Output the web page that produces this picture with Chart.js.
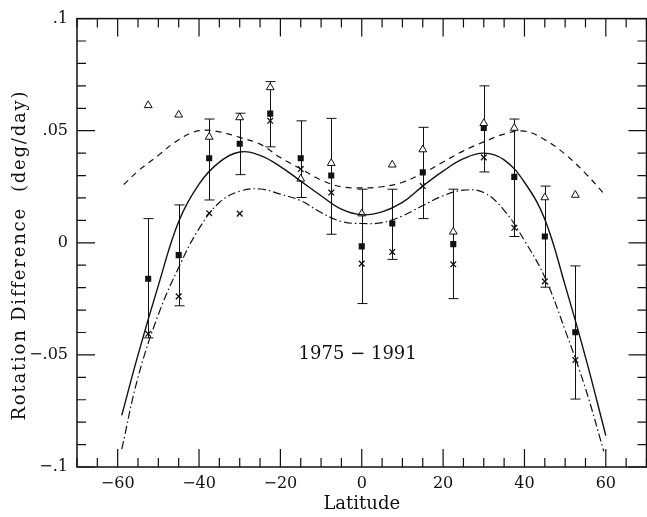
<!DOCTYPE html>
<html>
<head>
<meta charset="utf-8">
<title>Rotation Difference vs Latitude</title>
<script src="https://cdn.jsdelivr.net/npm/chart.js@4/dist/chart.umd.min.js"></script>
<style>
  html, body { margin: 0; padding: 0; background: #fff; overflow: hidden; }
  canvas { display: block; }
</style>
</head>
<body>
<canvas id="chart" width="652" height="517"></canvas>
<script>
// values (deg/day)
const latitudes = [-52.5, -45, -37.5, -30, -22.5, -15, -7.5, 0, 7.5, 15, 22.5, 30, 37.5, 45, 52.5];
const squares   = [-0.016, -0.0055, 0.0377, 0.0442, 0.0576, 0.0377, 0.030, -0.0016, 0.0086, 0.0314, -0.0006, 0.0512, 0.0294, 0.0028, -0.0399];
const errHigh   = [0.0108, 0.0169, 0.0552, 0.0578, 0.0719, 0.0544, 0.0555, 0.0239, 0.0239, 0.0515, 0.0239, 0.070, 0.0552, 0.0253, -0.0103];
const errLow    = [-0.0424, -0.0281, 0.0191, 0.0304, 0.0428, 0.0202, 0.0038, -0.0271, -0.0074, 0.0108, -0.0249, 0.0316, 0.0028, -0.0198, -0.0697];
const triangles = [0.0613, 0.0571, 0.0472, 0.0559, 0.0693, 0.0285, 0.0355, 0.013, 0.0348, 0.0416, 0.0049, 0.0533, 0.0512, 0.0202, 0.0213];
const crosses   = [-0.0406, -0.0239, 0.0132, 0.013, 0.0544, 0.0329, 0.0224, -0.0093, -0.0041, 0.0253, -0.0096, 0.0381, 0.0067, -0.0172, -0.0523];

// fitted curves
const solidLat = [-59, -55, -50, -45, -40, -35, -30, -25, -20, -15, -10, -5, 0, 5, 10, 15, 20, 25, 30, 35, 40, 45, 50, 55, 60];
const solidVal = [-0.077, -0.050, -0.019, 0.0095, 0.0262, 0.036, 0.0405, 0.039, 0.034, 0.0275, 0.021, 0.015, 0.0125, 0.0138, 0.018, 0.0253, 0.032, 0.0375, 0.040, 0.037, 0.027, 0.0105, -0.019, -0.051, -0.086];
const dashLat  = [-58.5, -55, -50, -45, -40, -35, -30, -25, -20, -15, -10, -5, 0, 5, 10, 15, 20, 25, 30, 35, 40, 45, 50, 55, 60];
const dashVal  = [0.026, 0.032, 0.039, 0.046, 0.050, 0.0495, 0.047, 0.044, 0.038, 0.033, 0.028, 0.025, 0.0245, 0.025, 0.027, 0.031, 0.036, 0.041, 0.045, 0.0485, 0.0498, 0.046, 0.0395, 0.031, 0.021];
const ddLat    = [-59, -55, -50, -45, -40, -35, -30, -25, -20, -15, -10, -5, 0, 5, 10, 15, 20, 25, 30, 35, 40, 45, 50, 55, 59.5];
const ddVal    = [-0.092, -0.060, -0.032, -0.011, 0.0063, 0.018, 0.023, 0.024, 0.0217, 0.0188, 0.0135, 0.0095, 0.0086, 0.009, 0.012, 0.0166, 0.021, 0.0235, 0.0224, 0.0145, 0.001, -0.0154, -0.039, -0.065, -0.093];

// axes
const xTickVals   = [-60, -40, -20, 0, 20, 40, 60];
const xTickLabels = ['\u221260', '\u221240', '\u221220', '0', '20', '40', '60'];
const yTickVals   = [0.1, 0.05, 0, -0.05, -0.1];
const yTickLabels = ['.1', '.05', '0', '\u2212.05', '\u2212.1'];
const yTitle      = 'Rotation Difference  (deg/day)';
const periodLabel = '1975 \u2212 1991';

const ink = '#111';
const font = 'DejaVu Serif';

function pts(xs, ys) {
    return xs.map((v, i) => ({ x: v, y: ys[i] }));
}

// error bars behind the markers
const errorBars = {
    id: 'errorBars',
    beforeDatasetsDraw(chart) {
        const { ctx, scales: { x, y } } = chart;
        ctx.save();
        ctx.strokeStyle = ink;
        ctx.lineWidth = 1;
        ctx.beginPath();
        latitudes.forEach((lat, i) => {
            const px = Math.round(x.getPixelForValue(lat)) + 0.5;
            const top = y.getPixelForValue(errHigh[i]);
            const bot = y.getPixelForValue(errLow[i]);
            ctx.moveTo(px, top); ctx.lineTo(px, bot);
            ctx.moveTo(px - 5, top); ctx.lineTo(px + 5, top);
            ctx.moveTo(px - 5, bot); ctx.lineTo(px + 5, bot);
        });
        ctx.stroke();
        ctx.restore();
    }
};

// box with inward ticks on all four sides, y title and the period label
const frame = {
    id: 'frame',
    afterDraw(chart) {
        const { ctx, chartArea: a, scales: { x, y } } = chart;
        ctx.save();
        ctx.strokeStyle = ink;
        ctx.lineWidth = 1.5;
        ctx.strokeRect(a.left, a.top, a.right - a.left, a.bottom - a.top);

        ctx.lineWidth = 1.2;
        ctx.beginPath();
        for (let v = -70; v <= 70; v += 5) {
            const px = x.getPixelForValue(v);
            const len = xTickVals.includes(v) ? 18 : 9;
            ctx.moveTo(px, a.bottom); ctx.lineTo(px, a.bottom - len);
            ctx.moveTo(px, a.top); ctx.lineTo(px, a.top + len);
        }
        for (let k = -10; k <= 10; k++) {
            const py = y.getPixelForValue(k / 100);
            const len = k % 5 === 0 ? 18 : 9;
            ctx.moveTo(a.left, py); ctx.lineTo(a.left + len, py);
            ctx.moveTo(a.right, py); ctx.lineTo(a.right - len, py);
        }
        ctx.stroke();

        ctx.fillStyle = ink;
        ctx.font = '18px "' + font + '"';
        ctx.textAlign = 'center';
        ctx.textBaseline = 'middle';
        ctx.fillText(periodLabel, x.getPixelForValue(-1), y.getPixelForValue(-0.0498));

        // y title, spaced out a little like the typewriter original
        ctx.translate(20, y.getPixelForValue(-0.0055));
        ctx.rotate(-Math.PI / 2);
        ctx.letterSpacing = '1.8px';
        ctx.fillText(yTitle, 0, 0);
        ctx.restore();
    }
};

new Chart(document.getElementById('chart'), {
    type: 'scatter',
    data: {
        datasets: [
            {
                label: 'fit',
                data: pts(solidLat, solidVal),
                showLine: true,
                borderColor: ink,
                borderWidth: 1.4,
                pointRadius: 0,
                tension: 0.4
            },
            {
                label: 'upper',
                data: pts(dashLat, dashVal),
                showLine: true,
                borderColor: ink,
                borderWidth: 1.2,
                borderDash: [6, 5],
                pointRadius: 0,
                tension: 0.4
            },
            {
                label: 'lower',
                data: pts(ddLat, ddVal),
                showLine: true,
                borderColor: ink,
                borderWidth: 1.2,
                borderDash: [8, 3, 1.5, 3],
                pointRadius: 0,
                tension: 0.4
            },
            {
                label: 'triangles',
                data: pts(latitudes, triangles),
                pointStyle: 'triangle',
                pointRadius: 4.5,
                borderWidth: 1,
                borderColor: ink,
                backgroundColor: '#fff'
            },
            {
                label: 'crosses',
                data: pts(latitudes, crosses),
                pointStyle: 'crossRot',
                pointRadius: 4,
                borderWidth: 1.3,
                borderColor: ink
            },
            {
                label: 'squares',
                data: pts(latitudes, squares),
                pointStyle: 'rect',
                pointRadius: 4.3,
                borderWidth: 0,
                backgroundColor: ink
            }
        ]
    },
    options: {
        responsive: false,
        animation: false,
        layout: { padding: { top: 9, right: 2, left: 0, bottom: 0 } },
        plugins: {
            legend: { display: false },
            tooltip: { enabled: false }
        },
        scales: {
            x: {
                type: 'linear',
                min: -70,
                max: 70,
                grid: { display: false, drawTicks: false },
                border: { display: false },
                afterFit(scale) { scale.height = 50; },
                afterBuildTicks(scale) { scale.ticks = xTickVals.map(v => ({ value: v })); },
                ticks: {
                    color: ink,
                    padding: 7,
                    maxRotation: 0,
                    font: { family: font, size: 16 },
                    callback: v => xTickLabels[xTickVals.indexOf(v)]
                },
                title: {
                    display: true,
                    text: 'Latitude',
                    color: ink,
                    padding: { top: 0, bottom: 2 },
                    font: { family: font, size: 18 }
                }
            },
            y: {
                type: 'linear',
                min: -0.1,
                max: 0.1,
                grid: { display: false, drawTicks: false },
                border: { display: false },
                afterFit(scale) { scale.width = 77; },
                afterBuildTicks(scale) { scale.ticks = yTickVals.map(v => ({ value: v })); },
                ticks: {
                    color: ink,
                    padding: 9,
                    font: { family: font, size: 16 },
                    callback: v => yTickLabels[yTickVals.indexOf(v)]
                }
            }
        }
    },
    plugins: [errorBars, frame]
});
</script>
</body>
</html>
